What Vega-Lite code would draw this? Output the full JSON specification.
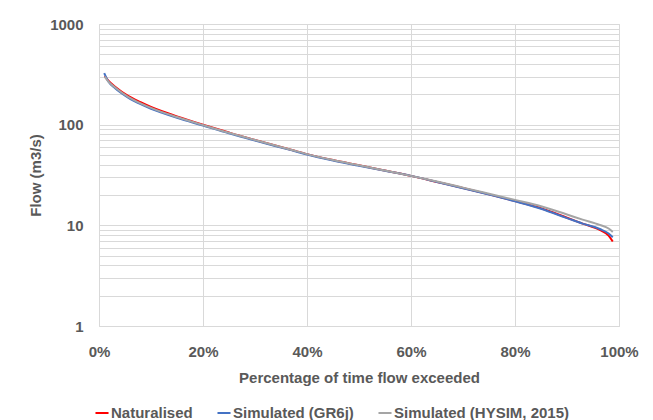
{
  "$schema": "https://vega.github.io/schema/vega-lite/v6.json",
  "width": 520,
  "height": 302,
  "autosize": {"type": "none"},
  "padding": {"left": 99, "top": 24, "right": 34, "bottom": 94},
  "background": "white",
  "config": {
    "font": "Liberation Sans",
    "view": {"stroke": "#D9D9D9", "strokeWidth": 1},
    "axis": {"labelColor": "#595959", "titleColor": "#595959", "labelFont": "Liberation Sans", "titleFont": "Liberation Sans", "labelFontWeight": "bold", "titleFontWeight": "bold", "labelFontSize": 15, "titleFontSize": 15, "gridColor": "#D9D9D9", "gridWidth": 1, "domain": false, "ticks": false}
  },
  "datasets": {
    "fdc": [
      {"p": 0.011, "s": "Naturalised", "q": 303}, {"p": 0.018, "s": "Naturalised", "q": 273}, {"p": 0.031, "s": "Naturalised", "q": 238}, {"p": 0.056, "s": "Naturalised", "q": 193}, {"p": 0.08, "s": "Naturalised", "q": 167}, {"p": 0.10, "s": "Naturalised", "q": 150}, {"p": 0.12, "s": "Naturalised", "q": 137}, {"p": 0.15, "s": "Naturalised", "q": 121}, {"p": 0.20, "s": "Naturalised", "q": 100}, {"p": 0.25, "s": "Naturalised", "q": 83.5}, {"p": 0.281, "s": "Naturalised", "q": 75}, {"p": 0.30, "s": "Naturalised", "q": 70.5}, {"p": 0.371, "s": "Naturalised", "q": 56}, {"p": 0.40, "s": "Naturalised", "q": 51}, {"p": 0.45, "s": "Naturalised", "q": 44.5}, {"p": 0.50, "s": "Naturalised", "q": 39.5}, {"p": 0.55, "s": "Naturalised", "q": 35}, {"p": 0.60, "s": "Naturalised", "q": 31}, {"p": 0.65, "s": "Naturalised", "q": 27}, {"p": 0.70, "s": "Naturalised", "q": 23.5}, {"p": 0.75, "s": "Naturalised", "q": 20.3}, {"p": 0.80, "s": "Naturalised", "q": 17.4}, {"p": 0.85, "s": "Naturalised", "q": 14.8}, {"p": 0.90, "s": "Naturalised", "q": 11.9}, {"p": 0.93, "s": "Naturalised", "q": 10.4}, {"p": 0.963, "s": "Naturalised", "q": 9.0}, {"p": 0.98, "s": "Naturalised", "q": 7.9}, {"p": 0.988, "s": "Naturalised", "q": 6.9},
      {"p": 0.010, "s": "Simulated (GR6j)", "q": 325}, {"p": 0.018, "s": "Simulated (GR6j)", "q": 268}, {"p": 0.031, "s": "Simulated (GR6j)", "q": 230}, {"p": 0.056, "s": "Simulated (GR6j)", "q": 186}, {"p": 0.08, "s": "Simulated (GR6j)", "q": 160}, {"p": 0.10, "s": "Simulated (GR6j)", "q": 144}, {"p": 0.12, "s": "Simulated (GR6j)", "q": 132}, {"p": 0.15, "s": "Simulated (GR6j)", "q": 117}, {"p": 0.20, "s": "Simulated (GR6j)", "q": 98}, {"p": 0.25, "s": "Simulated (GR6j)", "q": 82}, {"p": 0.281, "s": "Simulated (GR6j)", "q": 74}, {"p": 0.30, "s": "Simulated (GR6j)", "q": 69.5}, {"p": 0.371, "s": "Simulated (GR6j)", "q": 55.5}, {"p": 0.40, "s": "Simulated (GR6j)", "q": 50.5}, {"p": 0.45, "s": "Simulated (GR6j)", "q": 44}, {"p": 0.50, "s": "Simulated (GR6j)", "q": 39}, {"p": 0.55, "s": "Simulated (GR6j)", "q": 34.8}, {"p": 0.60, "s": "Simulated (GR6j)", "q": 31}, {"p": 0.65, "s": "Simulated (GR6j)", "q": 27}, {"p": 0.70, "s": "Simulated (GR6j)", "q": 23.4}, {"p": 0.75, "s": "Simulated (GR6j)", "q": 20.2}, {"p": 0.80, "s": "Simulated (GR6j)", "q": 17.3}, {"p": 0.85, "s": "Simulated (GR6j)", "q": 14.6}, {"p": 0.90, "s": "Simulated (GR6j)", "q": 11.8}, {"p": 0.93, "s": "Simulated (GR6j)", "q": 10.4}, {"p": 0.963, "s": "Simulated (GR6j)", "q": 9.2}, {"p": 0.98, "s": "Simulated (GR6j)", "q": 8.3}, {"p": 0.988, "s": "Simulated (GR6j)", "q": 7.6},
      {"p": 0.011, "s": "Simulated (HYSIM, 2015)", "q": 300}, {"p": 0.018, "s": "Simulated (HYSIM, 2015)", "q": 268}, {"p": 0.031, "s": "Simulated (HYSIM, 2015)", "q": 234}, {"p": 0.056, "s": "Simulated (HYSIM, 2015)", "q": 189}, {"p": 0.08, "s": "Simulated (HYSIM, 2015)", "q": 163}, {"p": 0.10, "s": "Simulated (HYSIM, 2015)", "q": 147}, {"p": 0.12, "s": "Simulated (HYSIM, 2015)", "q": 134}, {"p": 0.15, "s": "Simulated (HYSIM, 2015)", "q": 119}, {"p": 0.20, "s": "Simulated (HYSIM, 2015)", "q": 99}, {"p": 0.25, "s": "Simulated (HYSIM, 2015)", "q": 83}, {"p": 0.281, "s": "Simulated (HYSIM, 2015)", "q": 75}, {"p": 0.30, "s": "Simulated (HYSIM, 2015)", "q": 70.5}, {"p": 0.371, "s": "Simulated (HYSIM, 2015)", "q": 56}, {"p": 0.40, "s": "Simulated (HYSIM, 2015)", "q": 51}, {"p": 0.45, "s": "Simulated (HYSIM, 2015)", "q": 44.5}, {"p": 0.50, "s": "Simulated (HYSIM, 2015)", "q": 39.5}, {"p": 0.55, "s": "Simulated (HYSIM, 2015)", "q": 35}, {"p": 0.60, "s": "Simulated (HYSIM, 2015)", "q": 31}, {"p": 0.65, "s": "Simulated (HYSIM, 2015)", "q": 27.2}, {"p": 0.70, "s": "Simulated (HYSIM, 2015)", "q": 23.7}, {"p": 0.75, "s": "Simulated (HYSIM, 2015)", "q": 20.6}, {"p": 0.80, "s": "Simulated (HYSIM, 2015)", "q": 17.9}, {"p": 0.85, "s": "Simulated (HYSIM, 2015)", "q": 15.5}, {"p": 0.90, "s": "Simulated (HYSIM, 2015)", "q": 12.8}, {"p": 0.93, "s": "Simulated (HYSIM, 2015)", "q": 11.4}, {"p": 0.963, "s": "Simulated (HYSIM, 2015)", "q": 10.1}, {"p": 0.98, "s": "Simulated (HYSIM, 2015)", "q": 9.3}, {"p": 0.988, "s": "Simulated (HYSIM, 2015)", "q": 8.6}
    ]
  },
  "data": {"name": "fdc"},
  "mark": {"type": "line", "strokeWidth": 2, "interpolate": "monotone"},
  "encoding": {
    "x": {"field": "p", "type": "quantitative", "scale": {"domain": [0, 1], "nice": false}, "axis": {"values": [0, 0.2, 0.4, 0.6, 0.8, 1], "format": ".0%", "title": "Percentage of time flow exceeded", "labelFlush": false, "labelPadding": 18, "titlePadding": 11}},
    "y": {"field": "q", "type": "quantitative", "scale": {"type": "log", "domain": [1, 1000], "nice": false}, "axis": {"values": [1, 2, 3, 4, 5, 6, 7, 8, 9, 10, 20, 30, 40, 50, 60, 70, 80, 90, 100, 200, 300, 400, 500, 600, 700, 800, 900, 1000], "format": "d", "labelExpr": "indexof([1, 10, 100, 1000], datum.value) >= 0 ? datum.label : ''", "title": "Flow (m3/s)", "labelPadding": 16, "titlePadding": 6}},
    "color": {"field": "s", "type": "nominal", "scale": {"domain": ["Naturalised", "Simulated (GR6j)", "Simulated (HYSIM, 2015)"], "range": ["#FF0000", "#4472C4", "#A5A5A5"]}, "legend": {"title": null, "orient": "none", "legendX": -5, "legendY": 381, "direction": "horizontal", "symbolType": "stroke", "symbolStrokeWidth": 2, "symbolSize": 170, "labelFontSize": 15, "labelFontWeight": "bold", "labelColor": "#595959", "labelOffset": 1, "columnPadding": 20, "labelLimit": 300}}
  }
}
